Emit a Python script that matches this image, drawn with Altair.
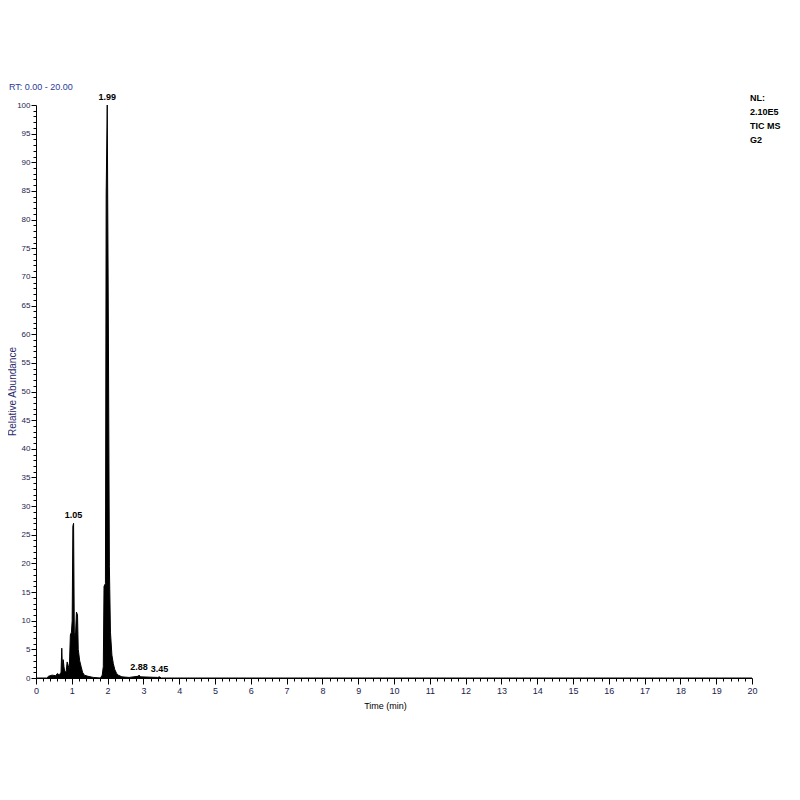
import altair as alt
import pandas as pd

# Chromatogram profile (time in min, relative abundance %)
times = [0.00, 0.30, 0.35, 0.45, 0.55, 0.60, 0.65, 0.70, 0.72, 0.74, 0.76, 0.78, 0.80,
         0.84, 0.87, 0.90, 0.93, 0.96, 0.99, 1.01, 1.03, 1.05, 1.07, 1.10, 1.13, 1.16,
         1.18, 1.22, 1.26, 1.30, 1.35, 1.45, 1.60, 1.80, 1.85, 1.88, 1.90, 1.94, 1.96,
         1.99, 2.02, 2.05, 2.08, 2.12, 2.16, 2.20, 2.25, 2.30, 2.40, 2.60, 2.85, 2.88,
         2.92, 3.40, 3.45, 3.50, 20.00]
abund = [0.0, 0.0, 0.3, 0.5, 0.4, 0.8, 0.5, 1.0, 5.2, 1.5, 3.2, 2.0, 1.2,
         1.0, 2.8, 2.2, 1.5, 7.5, 8.0, 10.0, 26.5, 27.0, 8.0, 7.0, 11.5, 11.0,
         5.0, 3.0, 2.0, 1.0, 0.5, 0.3, 0.1, 0.0, 0.5, 2.0, 16.0, 16.5, 84.5,
         100.0, 63.0, 19.5, 8.0, 4.0, 2.5, 1.5, 0.8, 0.5, 0.2, 0.1, 0.3, 0.5,
         0.2, 0.1, 0.2, 0.0, 0.0]

# Peak annotations
peak_labels = ["1.99", "1.05", "2.88", "3.45"]
peak_times = [1.99, 1.05, 2.88, 3.45]
peak_heights = [100.0, 27.0, 0.5, 0.2]

x_ticks = [round(i * 0.2, 1) for i in range(0, 101)]
y_ticks = list(range(0, 101))

info_text = "NL:\n2.10E5\nTIC MS\nG2"
rt_label = "RT: 0.00 - 20.00"

df = pd.DataFrame({"t": times, "a": abund})
peaks = pd.DataFrame({"t": peak_times, "a": peak_heights, "label": peak_labels})

FONT = "Liberation Sans"
LABEL_COLOR = "#1c1c4e"

is_int = "abs(datum.value - round(datum.value)) < 1e-6"
is_five = "abs(datum.value/5 - round(datum.value/5)) < 1e-6"

x_scale = alt.Scale(domain=[0, 20], nice=False, zero=False)
y_scale = alt.Scale(domain=[0, 100], nice=False)

x_axis = alt.Axis(
    values=x_ticks, title="Time (min)", grid=False, format=".0f",
    labelExpr=f"{is_int} ? datum.label : ''",
    labelOverlap=False, labelFlush=False,
    tickSize={"condition": {"test": is_int, "value": 6}, "value": 3},
    tickColor="black", domainColor="black", labelColor=LABEL_COLOR,
    labelFont=FONT, labelFontSize=9, titleFont=FONT, titleFontSize=9,
    titleFontWeight="normal", titleColor="black", titlePadding=6,
    labelPadding=2, titleX=349,
)
y_axis = alt.Axis(
    values=y_ticks, title="Relative Abundance", grid=False, format=".0f",
    labelExpr=f"{is_five} ? datum.label : ''",
    labelOverlap=False, labelFlush=False,
    tickSize={"condition": {"test": is_five, "value": 5}, "value": 3},
    tickColor="black", domainColor="black", labelColor=LABEL_COLOR,
    labelFont=FONT, labelFontSize=8, titleFont=FONT, titleFontSize=10,
    titleFontWeight="normal", titleColor="#2a2a6a",
    labelPadding=1, titleX=-24, titleY=286, titleAngle=-90,
    titleAlign="center", titleBaseline="middle",
)

X = alt.X("t:Q", scale=x_scale, axis=x_axis)
Y = alt.Y("a:Q", scale=y_scale, axis=y_axis)

area = alt.Chart(df).mark_area(
    color="black", interpolate="linear", opacity=1
).encode(x=X, y=Y)

line = alt.Chart(df).mark_line(color="black", strokeWidth=1).encode(x=X, y=Y)

labels = alt.Chart(peaks).mark_text(
    font=FONT, fontSize=9, fontWeight="bold", color="black", dy=-8
).encode(x=X, y=Y, text="label:N")

rt_text = alt.Chart(pd.DataFrame({"s": [rt_label]})).mark_text(
    font=FONT, fontSize=9, color="#2a3a9a", align="left", baseline="middle"
).encode(x=alt.value(-27), y=alt.value(-18), text="s:N")

info = alt.Chart(pd.DataFrame({"s": [info_text]})).mark_text(
    font=FONT, fontSize=9, fontWeight="bold", color="black", align="left",
    baseline="middle", lineBreak="\n", lineHeight=14
).encode(x=alt.value(714), y=alt.value(-7), text="s:N")

chart = alt.layer(area, line, labels, rt_text, info).properties(
    width=716, height=573,
    autosize=alt.AutoSizeParams(type="none"),
    padding={"left": 28, "top": 97, "right": 40, "bottom": 100},
    background="white",
).configure_view(stroke=None)

chart.save("out.html", embed_options={"renderer": "svg", "actions": False})
